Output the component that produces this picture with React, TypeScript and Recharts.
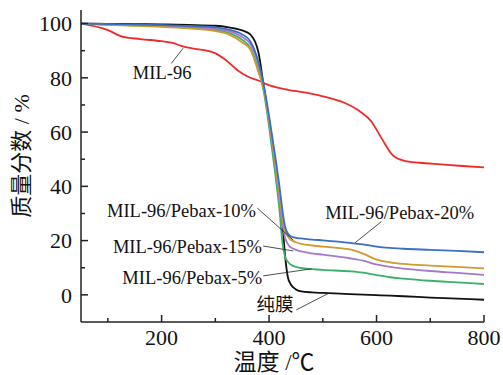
import React from 'react';
import { LineChart, Line, XAxis, YAxis, ReferenceLine, ReferenceDot } from 'recharts';

// temperatures shared by the membrane curves (°C)
const temps = [50, 100, 150, 200, 250, 300, 325, 350, 365, 380, 390, 400, 410, 420, 425, 430, 435, 440, 450, 460, 480, 500, 550, 575, 600, 625, 650, 700, 750, 800];
const pure = [100, 99.9, 99.8, 99.7, 99.5, 99.2, 98.6, 97.5, 96, 89.6, 77, 64, 50, 35, 26, 14, 6.5, 4, 2, 1.3, 0.9, 0.7, 0.3, 0.1, -0.1, -0.3, -0.5, -1, -1.4, -1.8];
const pebax5 = [100, 99.6, 99.3, 99, 98.5, 97.6, 96.6, 94, 91, 83, 75, 62, 47, 30, 19, 14, 12.2, 11.2, 10.3, 9.9, 9.5, 9.2, 8.7, 8.2, 7.3, 6.5, 6, 5.2, 4.6, 4];
const pebax15 = [100, 99.7, 99.4, 99.2, 98.8, 98, 97.2, 95, 92.5, 85, 76.5, 64, 50, 34, 26, 21, 18.7, 17.6, 16.6, 16, 15.3, 14.8, 13.5, 12.6, 11.2, 10.3, 9.7, 8.8, 8.1, 7.4];
const pebax10 = [100, 99.5, 99.2, 98.8, 98.2, 97.2, 96, 93, 90.5, 82.2, 76, 64.5, 51, 36, 28.5, 23.5, 21.5, 20.4, 19.4, 18.8, 18.2, 17.8, 16.8, 15.2, 13, 12, 11.4, 10.8, 10.3, 9.8];
const pebax20 = [100, 99.8, 99.6, 99.4, 99.1, 98.6, 97.8, 96, 93.5, 86, 77.5, 66, 53, 39, 31, 25, 22.6, 21.6, 21, 20.8, 20.4, 20.1, 19.2, 18.6, 17.8, 17.3, 17, 16.6, 16.2, 15.7];

// MIL-96 powder
const milTemps = [50, 100, 125, 160, 200, 222, 236, 260, 296, 320, 340, 360, 380, 400, 420, 440, 460, 500, 540, 570, 590, 610, 630, 650, 680, 720, 760, 800];
const mil96 = [100, 97.6, 95.3, 94.3, 93.5, 92.8, 91.8, 90.8, 89.4, 86.5, 83, 80.5, 79, 77.3, 76.2, 75.4, 74.8, 73.2, 70.8, 67.5, 64, 57.5, 51.5, 49.5, 48.7, 48.1, 47.5, 47];

const xTicks = [100, 200, 300, 400, 500, 600, 700, 800];
const yTicks = [0, 10, 20, 30, 40, 50, 60, 70, 80, 90, 100];

const toData = (xs: number[], ys: number[]) => xs.map((t, i) => ({ t, v: ys[i] }));

const series = [
  { name: '纯膜', values: pure, color: '#111111' },
  { name: 'MIL-96/Pebax-5%', values: pebax5, color: '#3bb06a' },
  { name: 'MIL-96/Pebax-15%', values: pebax15, color: '#a678c8' },
  { name: 'MIL-96/Pebax-10%', values: pebax10, color: '#d09b2c' },
  { name: 'MIL-96/Pebax-20%', values: pebax20, color: '#3a6fc6' },
];

// label text positions and leader lines, in data units
const notes = [
  { text: 'MIL-96', x: 201, y: 81.9, from: [218, 85.3], to: [240, 90.9] },
  { text: 'MIL-96/Pebax-10%', x: 237, y: 31, from: [378, 32], to: [445, 20.2] },
  { text: 'MIL-96/Pebax-15%', x: 248, y: 18, from: [389, 18], to: [445, 16.2] },
  { text: 'MIL-96/Pebax-5%', x: 257, y: 6.5, from: [389, 7], to: [479, 9.6] },
  { text: '纯膜', x: 411, y: -3.7, from: [451, -5.5], to: [510, 0.5] },
  { text: 'MIL-96/Pebax-20%', x: 643, y: 30.5, from: [609, 27], to: [560, 19.2] },
];

const latin = '"Liberation Serif", "DejaVu Serif", serif';
const cjk = '"Liberation Serif", "Noto Sans CJK SC", sans-serif';

const XTick = (props: any) => {
  const { x, y, payload } = props;
  const major = payload.value % 200 === 0;
  return (
    <g>
      <line x1={x} x2={x} y1={y} y2={y - (major ? 7 : 4)} stroke="#222" strokeWidth={1.5} />
      {major && (
        <text x={x} y={y + 23} textAnchor="middle" fontSize={22} fontFamily={latin} fill="#111">
          {payload.value}
        </text>
      )}
    </g>
  );
};

const YTick = (props: any) => {
  const { x, y, payload } = props;
  const major = payload.value % 20 === 0;
  return (
    <g>
      <line x1={x} x2={x + (major ? 7 : 4)} y1={y} y2={y} stroke="#222" strokeWidth={1.5} />
      {major && (
        <text x={x - 9} y={y} dy="0.35em" textAnchor="end" fontSize={22} fontFamily={latin} fill="#111">
          {payload.value}
        </text>
      )}
    </g>
  );
};

export default function App() {
  return (
    <div style={{ position: 'relative', width: 503, height: 375, background: '#fff', overflow: 'hidden', fontFamily: cjk }}>
      <style>{`body{margin:0}`}</style>
      <LineChart width={503} height={375} margin={{ top: 10, right: 19, left: 0, bottom: 0 }}>
        <XAxis
          dataKey="t"
          type="number"
          domain={[50, 800]}
          ticks={xTicks}
          allowDataOverflow
          height={53}
          tickSize={0}
          tickMargin={0}
          tickLine={false}
          tick={<XTick />}
          axisLine={{ stroke: '#222', strokeWidth: 1.5 }}
        />
        <XAxis
          xAxisId="top"
          orientation="top"
          type="number"
          domain={[50, 800]}
          height={0}
          tick={false}
          tickLine={false}
          axisLine={{ stroke: '#222', strokeWidth: 1.5 }}
        />
        <YAxis
          type="number"
          domain={[-10, 105]}
          ticks={yTicks}
          allowDataOverflow
          width={81}
          tickSize={0}
          tickMargin={0}
          tickLine={false}
          tick={<YTick />}
          axisLine={{ stroke: '#222', strokeWidth: 1.5 }}
        />
        <YAxis
          yAxisId="right"
          orientation="right"
          type="number"
          domain={[-10, 105]}
          width={0}
          tick={false}
          tickLine={false}
          axisLine={{ stroke: '#222', strokeWidth: 1.5 }}
        />
        <Line
          data={toData(milTemps, mil96)}
          dataKey="v"
          type="monotone"
          stroke="#ee2a2a"
          strokeWidth={1.8}
          dot={false}
          isAnimationActive={false}
        />
        {series.map((s) => (
          <Line
            key={s.name}
            data={toData(temps, s.values)}
            dataKey="v"
            type="monotone"
            stroke={s.color}
            strokeWidth={1.8}
            dot={false}
            isAnimationActive={false}
          />
        ))}
        {notes.map((n) => (
          <ReferenceLine
            key={'l' + n.text}
            segment={[{ x: n.from[0], y: n.from[1] }, { x: n.to[0], y: n.to[1] }]}
            stroke="#222"
            strokeWidth={0.8}
          />
        ))}
        {notes.map((n) => (
          <ReferenceDot
            key={'t' + n.text}
            x={n.x}
            y={n.y}
            r={0}
            shape={(p: any) => (
              <text x={p.cx} y={p.cy} dy="0.35em" textAnchor="middle" fontSize={18.5} fontFamily={cjk} fill="#111">
                {n.text}
              </text>
            )}
          />
        ))}
      </LineChart>
      <div
        style={{
          position: 'absolute',
          left: 0,
          top: 350,
          width: 548,
          textAlign: 'center',
          fontSize: 23,
          color: '#111',
          lineHeight: '25px',
          whiteSpace: 'nowrap',
        }}
      >
        温度 /℃
      </div>
      <div
        style={{
          position: 'absolute',
          left: 22,
          top: 156,
          transform: 'translate(-50%, -50%) rotate(-90deg)',
          fontSize: 22,
          color: '#111',
          lineHeight: '24px',
          whiteSpace: 'nowrap',
        }}
      >
        质量分数 / %
      </div>
    </div>
  );
}
